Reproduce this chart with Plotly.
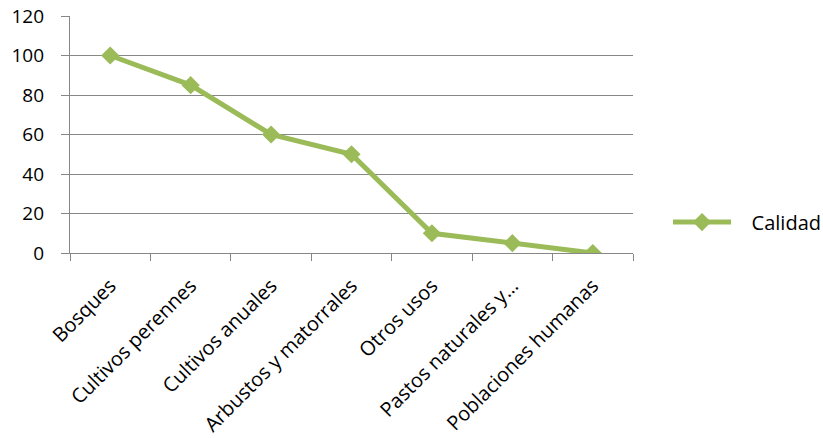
import plotly.graph_objects as go

categories = ["Bosques", "Cultivos perennes", "Cultivos anuales", "Arbustos y matorrales",
              "Otros usos", "Pastos naturales y…", "Poblaciones humanas"]
calidad = [100, 85, 60, 50, 10, 5, 0]
y_ticks = [0, 20, 40, 60, 80, 100, 120]
series_name = "Calidad"

GREEN = "#9BBB59"
GRID = "#878787"
FONT = "Open Sans"

fig = go.Figure()
fig.add_trace(go.Scatter(
    x=categories, y=calidad, name="\u00a0\u00a0\u00a0" + series_name, mode="lines+markers",
    line=dict(color=GREEN, width=5),
    marker=dict(symbol="diamond", size=14, color=GREEN),
))

fig.update_layout(
    width=823, height=438,
    margin=dict(l=70, r=190, t=16, b=185),
    paper_bgcolor="white", plot_bgcolor="white",
    font=dict(family=FONT, size=19, color="#000000"),
    showlegend=True,
    legend=dict(xref="container", yref="container", x=0.8117, y=0.493,
                xanchor="left", yanchor="middle",
                font=dict(family=FONT, size=20), itemwidth=58,
                bgcolor="rgba(0,0,0,0)"),
    xaxis=dict(
        type="category", range=[-0.5, 6.5], tickangle=-45,
        showgrid=False, showline=True, linecolor=GRID, linewidth=1.3,
        ticks="outside", tickson="boundaries", ticklen=7, tickcolor=GRID, tickwidth=1.3,
        tickfont=dict(family=FONT, size=20), zeroline=False,
        ticklabelstandoff=12, automargin=False,
    ),
    yaxis=dict(
        range=[0, 120], tickvals=y_ticks, showgrid=True, gridcolor=GRID, gridwidth=1.3,
        showline=True, linecolor=GRID, linewidth=1.3,
        ticks="outside", ticklen=8, tickcolor=GRID, tickwidth=1.3,
        tickfont=dict(family=FONT, size=19), zeroline=False,
        ticklabelstandoff=13, automargin=False,
    ),
)

fig.write_html("out.html")
